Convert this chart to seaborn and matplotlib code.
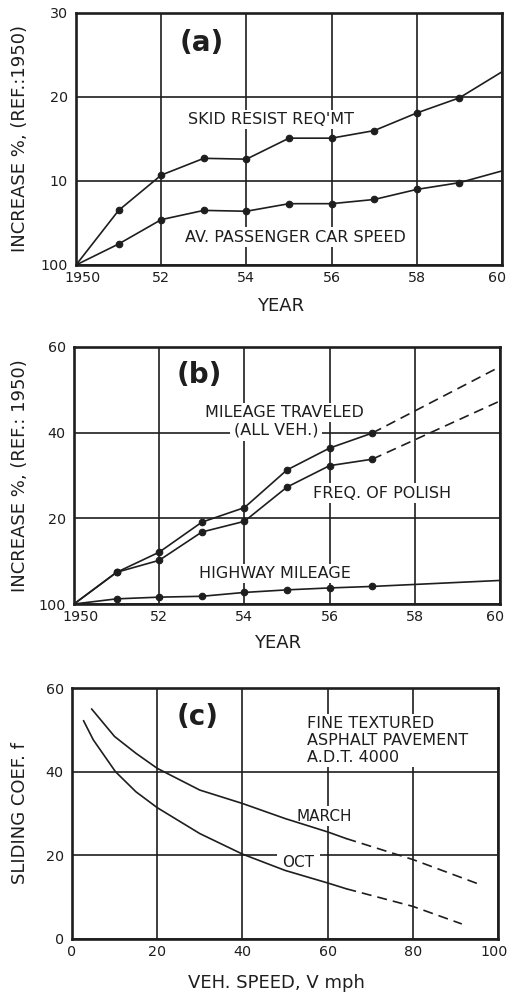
import matplotlib
matplotlib.use("Agg")
import matplotlib.pyplot as plt
import matplotlib.transforms as mtransforms
import seaborn as sns

# ---------------- data ----------------
# panel (a)
years_a = [1950, 1951, 1952, 1953, 1954, 1955, 1956, 1957, 1958, 1959, 1960]
skid_resist = [0, 6.5, 10.7, 12.7, 12.6, 15.1, 15.1, 16.0, 18.1, 19.9, 23.0]
car_speed = [0, 2.5, 5.4, 6.5, 6.4, 7.3, 7.3, 7.8, 9.0, 9.8, 11.2]

# panel (b)
years_b = [1950, 1951, 1952, 1953, 1954, 1955, 1956, 1957]
mileage_traveled = [0, 7.4, 12.1, 19.1, 22.5, 31.3, 36.4, 39.9]
freq_polish = [0, 7.4, 10.2, 16.8, 19.3, 27.3, 32.3, 33.8]
proj_years = [1957, 1960]
mileage_proj = [39.9, 55.4]
polish_proj = [33.8, 47.4]
hwy_years = [1950, 1951, 1952, 1953, 1954, 1955, 1956, 1957, 1960]
highway_mileage = [0, 1.2, 1.6, 1.8, 2.7, 3.3, 3.75, 4.1, 5.5]

# panel (c)
march_speed = [4.6, 10, 15, 20, 30, 40, 50, 60, 64.4]
march_coef = [55.0, 48.4, 44.4, 40.8, 35.6, 32.4, 28.8, 25.6, 24.0]
march_proj_speed = [64.4, 80, 95.3]
march_proj_coef = [24.0, 19.0, 13.2]
oct_speed = [2.7, 5, 10.2, 15, 20, 30, 40, 50, 60, 64.4]
oct_coef = [52.2, 47.6, 40.0, 35.2, 31.4, 25.2, 20.3, 16.4, 13.4, 12.0]
oct_proj_speed = [64.4, 80, 91.5]
oct_proj_coef = [12.0, 7.8, 3.6]

year_ticks = [1950, 1952, 1954, 1956, 1958, 1960]
year_labels = ["1950", "52", "54", "56", "58", "60"]
ya_ticks = [0, 10, 20, 30]
ya_labels = ["100", "10", "20", "30"]
yb_ticks = [0, 20, 40, 60]
yb_labels = ["100", "20", "40", "60"]
xc_ticks = [0, 20, 40, 60, 80, 100]
xc_labels = ["0", "20", "40", "60", "80", "100"]
yc_ticks = [0, 20, 40, 60]
yc_labels = ["0", "20", "40", "60"]

# ---------------- style ----------------
sns.set_theme(style="white")
plt.rcParams["font.family"] = ["DejaVu Sans"]
INK = "#1e1e1e"
LW = 1.2
GRID_LW = 1.2
FRAME_LW = 1.9
TICK_FS = 10.3
LAB_FS = 13
ANN_FS = 11.5
BOX = dict(facecolor="white", edgecolor="none", pad=1.5)
DASH = (0, (6, 3.6))

fig = plt.figure(figsize=(5.10, 9.94), dpi=100)
W, H = 510.0, 994.0


def make_ax(left, top, right, bottom):
    return fig.add_axes([left / W, 1 - bottom / H, (right - left) / W, (bottom - top) / H])


def shift(label, dx_px):
    label.set_transform(label.get_transform() +
                        mtransforms.ScaledTranslation(dx_px / 100.0, 0, fig.dpi_scale_trans))


def style_ax(ax, xticks, xlabels, yticks, ylabels, first_dx=0, last_dx=0):
    ax.set_xticks(xticks)
    ax.set_xticklabels(xlabels)
    ax.set_yticks(yticks)
    ax.set_yticklabels(ylabels)
    ax.grid(True, color=INK, linewidth=GRID_LW, zorder=0)
    ax.set_axisbelow(True)
    for s in ax.spines.values():
        s.set_color(INK)
        s.set_linewidth(FRAME_LW)
        s.set_zorder(5)
    ax.tick_params(axis="both", length=0, labelsize=TICK_FS, colors=INK)
    ax.tick_params(axis="y", pad=6)
    ax.tick_params(axis="x", pad=4)
    ax.set_xlabel("")
    ax.set_ylabel("")
    labs = ax.get_xticklabels()
    shift(labs[0], first_dx)
    shift(labs[-1], last_dx)


def line(ax, x, y, ls="-"):
    sns.lineplot(x=x, y=y, ax=ax, color=INK, linewidth=LW, linestyle=ls,
                 estimator=None, sort=False, legend=False, zorder=3)


def dots(ax, x, y):
    sns.scatterplot(x=x, y=y, ax=ax, color=INK, s=22, edgecolor=INK,
                    linewidth=0.8, legend=False, zorder=4)


# ---------------- panel (a) ----------------
ax = make_ax(76, 13, 502, 265)
line(ax, years_a, skid_resist)
line(ax, years_a, car_speed)
dots(ax, years_a[1:-1], skid_resist[1:-1])
dots(ax, years_a[1:-1], car_speed[1:-1])
ax.set_xlim(1950, 1960)
ax.set_ylim(0, 30)
style_ax(ax, year_ticks, year_labels, ya_ticks, ya_labels, first_dx=7, last_dx=-5)
ax.text(1952.96, 26.4, "(a)", fontsize=20, fontweight="bold", ha="center", va="center", color=INK)
ax.text(1954.58, 17.3, "SKID RESIST REQ'MT", fontsize=ANN_FS, ha="center", va="center",
        color=INK, bbox=BOX, zorder=2)
ax.text(1955.16, 3.33, "AV. PASSENGER CAR SPEED", fontsize=ANN_FS, ha="center", va="center",
        color=INK, bbox=BOX, zorder=2)
ax.text(-0.131, 0.5, "INCREASE %, (REF.:1950)", transform=ax.transAxes, rotation=90,
        ha="center", va="center", fontsize=LAB_FS, color=INK)
ax.text(0.481, -0.163, "YEAR", transform=ax.transAxes, ha="center", va="center",
        fontsize=LAB_FS, color=INK)

# ---------------- panel (b) ----------------
ax = make_ax(74, 347, 500, 604)
line(ax, years_b, mileage_traveled)
line(ax, years_b, freq_polish)
line(ax, proj_years, mileage_proj, ls=DASH)
line(ax, proj_years, polish_proj, ls=DASH)
line(ax, hwy_years, highway_mileage)
dots(ax, years_b[1:], mileage_traveled[1:])
dots(ax, years_b[1:], freq_polish[1:])
dots(ax, hwy_years[1:-1], highway_mileage[1:-1])
ax.set_xlim(1950, 1960)
ax.set_ylim(0, 60)
style_ax(ax, year_ticks, year_labels, yb_ticks, yb_labels, first_dx=7, last_dx=-5)
ax.text(1952.93, 53.5, "(b)", fontsize=20, fontweight="bold", ha="center", va="center", color=INK)
ax.text(1954.93, 44.8, "MILEAGE TRAVELED", fontsize=ANN_FS, ha="center",
        va="center", color=INK, bbox=BOX, zorder=2)
ax.text(1954.74, 40.7, "(ALL VEH.)", fontsize=ANN_FS, ha="center",
        va="center", color=INK, bbox=dict(facecolor="white", edgecolor="none", pad=3), zorder=2)
ax.text(1957.23, 25.9, "FREQ. OF POLISH", fontsize=ANN_FS, ha="center", va="center",
        color=INK, bbox=BOX, zorder=2)
ax.text(1954.72, 7.2, "HIGHWAY MILEAGE", fontsize=ANN_FS, ha="center", va="center",
        color=INK, bbox=BOX, zorder=2)
ax.text(-0.127, 0.5, "INCREASE %, (REF.: 1950)", transform=ax.transAxes, rotation=90,
        ha="center", va="center", fontsize=LAB_FS, color=INK)
ax.text(0.479, -0.152, "YEAR", transform=ax.transAxes, ha="center", va="center",
        fontsize=LAB_FS, color=INK)

# ---------------- panel (c) ----------------
ax = make_ax(72, 688, 498, 939)
line(ax, march_speed, march_coef)
line(ax, oct_speed, oct_coef)
line(ax, march_proj_speed, march_proj_coef, ls=DASH)
line(ax, oct_proj_speed, oct_proj_coef, ls=DASH)
ax.set_xlim(0, 100)
ax.set_ylim(0, 60)
style_ax(ax, xc_ticks, xc_labels, yc_ticks, yc_labels, first_dx=0, last_dx=-4)
ax.text(29.6, 53.1, "(c)", fontsize=20, fontweight="bold", ha="center", va="center", color=INK)
ax.text(55.2, 47.4, "FINE TEXTURED\nASPHALT PAVEMENT\nA.D.T. 4000", fontsize=ANN_FS,
        ha="left", va="center", color=INK, bbox=BOX, zorder=2, linespacing=1.15)
ax.text(59.2, 29.4, "MARCH", fontsize=11, ha="center", va="center", color=INK,
        bbox=BOX, zorder=2)
ax.text(53.1, 18.4, "OCT", fontsize=11, ha="center", va="center", color=INK,
        bbox=dict(facecolor="white", edgecolor="none", pad=4), zorder=2)
ax.text(-0.122, 0.5, "SLIDING COEF. f", transform=ax.transAxes, rotation=90,
        ha="center", va="center", fontsize=LAB_FS, color=INK)
ax.text(0.481, -0.175, "VEH. SPEED, V mph", transform=ax.transAxes, ha="center",
        va="center", fontsize=LAB_FS, color=INK)

fig.savefig("out.png", dpi=100, facecolor="white")
